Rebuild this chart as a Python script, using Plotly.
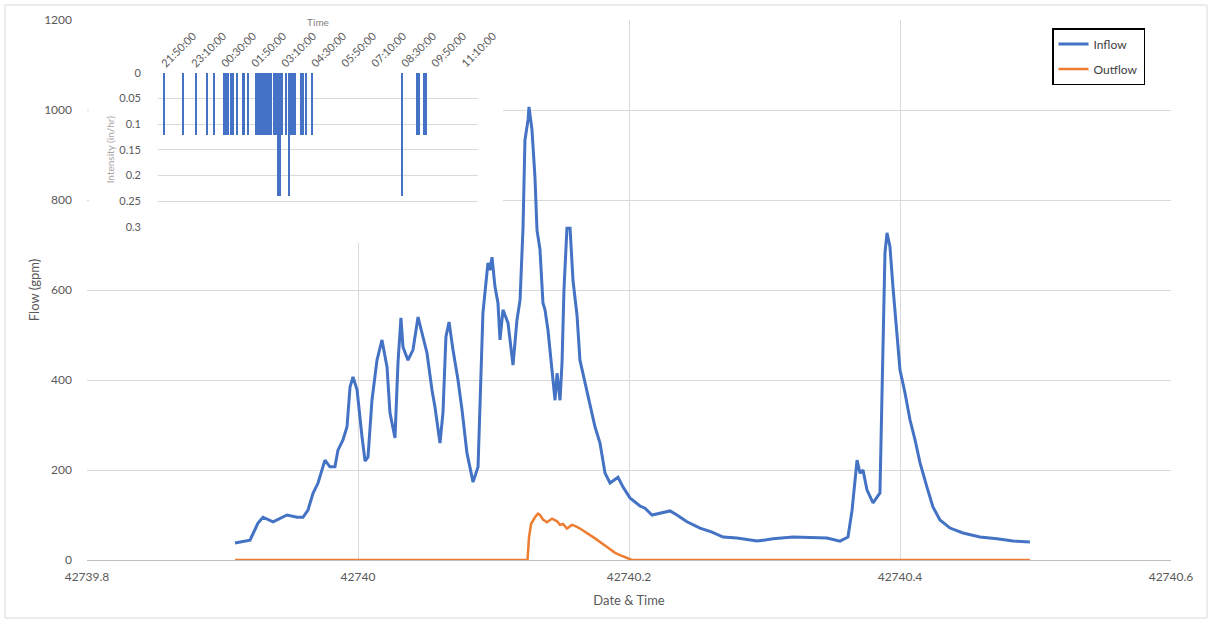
import plotly.graph_objects as go

# ---------------- main chart data ----------------
inflow_t = [42739.9092, 42739.9203, 42739.9262, 42739.9299, 42739.9373, 42739.9476, 42739.9550,
            42739.9594, 42739.9631, 42739.9668, 42739.9705, 42739.9734, 42739.9756, 42739.9793,
            42739.9830, 42739.9852, 42739.9889, 42739.9919, 42739.9941, 42739.9963, 42739.9993,
            42740.0030, 42740.0052, 42740.0074, 42740.0103, 42740.0140, 42740.0177, 42740.0214,
            42740.0236, 42740.0273, 42740.0295, 42740.0317, 42740.0332, 42740.0369, 42740.0406,
            42740.0443, 42740.0472, 42740.0509, 42740.0546, 42740.0568, 42740.0605, 42740.0627,
            42740.0649, 42740.0672, 42740.0701, 42740.0738, 42740.0768, 42740.0804, 42740.0849,
            42740.0886, 42740.0922, 42740.0937, 42740.0959, 42740.0974, 42740.0989, 42740.1011,
            42740.1033, 42740.1048, 42740.1070, 42740.1107, 42740.1144, 42740.1173, 42740.1196,
            42740.1218, 42740.1232, 42740.1255, 42740.1262, 42740.1284, 42740.1306, 42740.1321,
            42740.1343, 42740.1365, 42740.1380, 42740.1402, 42740.1439, 42740.1454, 42740.1469,
            42740.1491, 42740.1506, 42740.1520, 42740.1542, 42740.1565, 42740.1587, 42740.1616,
            42740.1638, 42740.1675, 42740.1712, 42740.1749, 42740.1786, 42740.1823, 42740.1860,
            42740.1919, 42740.1956, 42740.2007, 42740.2081, 42740.2118, 42740.2170, 42740.2229,
            42740.2303, 42740.2354, 42740.2428, 42740.2524, 42740.2613, 42740.2694, 42740.2797,
            42740.2945, 42740.3063, 42740.3210, 42740.3358, 42740.3461, 42740.3557, 42740.3616,
            42740.3646, 42740.3683, 42740.3705, 42740.3727, 42740.3756, 42740.3801, 42740.3852,
            42740.3874, 42740.3889, 42740.3904, 42740.3926, 42740.3948, 42740.3978, 42740.4000,
            42740.4037, 42740.4074, 42740.4111, 42740.4148, 42740.4199, 42740.4243, 42740.4295,
            42740.4369, 42740.4465, 42740.4590, 42740.4716, 42740.4834, 42740.4959]
inflow_gpm = [38, 44, 82, 95, 85, 100, 95,
              95, 111, 148, 171, 200, 222, 207,
              207, 244, 267, 296, 384, 407, 378,
              273, 220, 229, 355, 444, 489, 429,
              327, 271, 438, 538, 473, 444, 467,
              540, 504, 460, 378, 340, 260, 327,
              496, 529, 467, 400, 333, 238, 173,
              207, 549, 600, 660, 644, 673, 607,
              571, 489, 556, 527, 433, 533, 578,
              740, 933, 978, 1007, 956, 851, 733,
              690, 571, 556, 511, 407, 355, 415,
              355, 440, 600, 737, 737, 620, 545,
              444, 395, 340, 296, 260, 193, 171,
              184, 162, 138, 120, 115, 100, 104,
              109, 100, 85, 71, 62, 51, 49,
              42, 47, 51, 49, 49, 42, 51,
              110, 222, 193, 200, 156, 127, 149,
              460, 682, 727, 696, 607, 496, 422,
              371, 311, 267, 216, 162, 118, 89,
              71, 60, 51, 47, 42, 40]

outflow_t = [42739.9092, 42740.1251, 42740.1262, 42740.1277, 42740.1306, 42740.1328, 42740.1343,
             42740.1365, 42740.1395, 42740.1432, 42740.1469, 42740.1491, 42740.1513, 42740.1542,
             42740.1579, 42740.1601, 42740.1638, 42740.1690, 42740.1749, 42740.1838, 42740.1897,
             42740.1934, 42740.1971, 42740.2022, 42740.4959]
outflow_gpm = [0, 0, 50, 80, 95, 103, 100,
               90, 84, 92, 86, 78, 80, 70,
               78, 76, 70, 60, 48, 29, 16,
               11, 6, 0, 0]

x_tickvals = [42739.8, 42740.0, 42740.2, 42740.4, 42740.6]
x_ticktext = ["42739.8", "42740", "42740.2", "42740.4", "42740.6"]

# ---------------- inset (rain intensity) data ----------------
rain_minutes = [5, 55, 90, 120, 140, 165, 170, 175, 185, 190, 200, 215, 220, 230,
                250, 255, 260, 265, 270, 275, 280, 285, 290,
                300, 305, 310, 315, 320, 330, 340, 345, 350, 355,
                370, 375, 385, 400, 640, 680, 685, 700, 705]
rain_intensity = [0.12, 0.12, 0.12, 0.12, 0.12, 0.12, 0.12, 0.12, 0.12, 0.12, 0.12, 0.12, 0.12, 0.12,
                  0.12, 0.12, 0.12, 0.12, 0.12, 0.12, 0.12, 0.12, 0.12,
                  0.12, 0.12, 0.24, 0.24, 0.12, 0.12, 0.24, 0.12, 0.12, 0.12,
                  0.12, 0.12, 0.12, 0.12, 0.24, 0.12, 0.12, 0.12, 0.12]
time_tickvals = [0, 80, 160, 240, 320, 400, 480, 560, 640, 720, 800]
time_ticktext = ["21:50:00", "23:10:00", "00:30:00", "01:50:00", "03:10:00", "04:30:00",
                 "05:50:00", "07:10:00", "08:30:00", "09:50:00", "11:10:00"]

BLUE = "#4472C4"
ORANGE = "#ED7D31"
GRID = "#D9D9D9"
TXT = "#595959"
FONT = "Lato, Liberation Sans, sans-serif"

fig = go.Figure()
fig.add_trace(go.Scatter(x=inflow_t, y=inflow_gpm, mode="lines", name="Inflow",
                         line=dict(color=BLUE, width=3), legendgroup="a"))
fig.add_trace(go.Scatter(x=outflow_t, y=outflow_gpm, mode="lines", name="Outflow",
                         line=dict(color=ORANGE, width=2.5), legendgroup="b"))
fig.add_trace(go.Bar(x=rain_minutes, y=rain_intensity, xaxis="x2", yaxis="y2",
                     marker=dict(color=BLUE, line=dict(width=0)), width=4, showlegend=False))

W, H = 1212, 624
L, R, T, B = 87, 41, 20, 64
pw, ph = W - L - R, H - T - B

def px2paper_x(px):
    return (px - L) / pw

def py2paper_y(py):
    return (H - B - py) / ph

fig.update_layout(
    width=W, height=H,
    margin=dict(l=L, r=R, t=T, b=B),
    paper_bgcolor="white", plot_bgcolor="white",
    font=dict(family=FONT, size=12, color=TXT),
    showlegend=True,
    legend=dict(x=px2paper_x(1052), y=py2paper_y(28), xanchor="left", yanchor="top",
                bordercolor="black", borderwidth=1.5, bgcolor="white",
                font=dict(size=12, color="#404040"), tracegroupgap=6,
                itemwidth=30),
    bargap=0,
    xaxis=dict(range=[42739.8, 42740.6], tickmode="array", tickvals=x_tickvals,
               ticktext=x_ticktext, showgrid=True, gridcolor=GRID, gridwidth=1,
               showline=True, linecolor="#BFBFBF", linewidth=1, zeroline=False,
               ticks="", ticklabelstandoff=6,
               title=dict(text="Date & Time", font=dict(size=13, color=TXT), standoff=12)),
    yaxis=dict(range=[0, 1200], dtick=200, showgrid=True, gridcolor=GRID, gridwidth=1,
               zeroline=False, showline=False, ticks="", ticklabelstandoff=14,
               title=dict(text="Flow (gpm)", font=dict(size=13, color=TXT), standoff=1)),
    xaxis2=dict(domain=[px2paper_x(158), px2paper_x(478)], anchor="y2", side="top",
                range=[-11, 842], tickmode="array", tickvals=time_tickvals,
                ticktext=time_ticktext, tickangle=-45, showgrid=False, zeroline=False,
                showline=False, ticks="", tickfont=dict(size=11, color=TXT),
                title=dict(text="Time", font=dict(size=10, color="#7F7F7F"), standoff=0)),
    yaxis2=dict(domain=[py2paper_y(226.7), py2paper_y(72.7)], anchor="x2",
                range=[0.3, 0], dtick=0.05, showgrid=True, gridcolor=GRID, gridwidth=1,
                zeroline=False, showline=False, ticks="", ticklabelstandoff=16,
                tickfont=dict(size=11, color=TXT),
                title=dict(text="Intensity (in/hr)", font=dict(size=10, color="#A6A6A6"),
                           standoff=2)),
    shapes=[
        # white panel of the inset chart hiding the main gridlines
        dict(type="rect", xref="x", yref="y", layer="between",
             x0=42739.8015, x1=42739.8 + (503 - L) / pw * 0.8,
             y0=(H - B - 243) / ph * 1200, y1=1200,
             fillcolor="white", line=dict(width=0)),
        # chart-area border
        dict(type="rect", xref="paper", yref="paper", layer="above",
             x0=px2paper_x(5), x1=px2paper_x(1207), y0=py2paper_y(618), y1=py2paper_y(5),
             fillcolor="rgba(0,0,0,0)", line=dict(color=GRID, width=1)),
    ],
)

fig.write_html("out.html")
